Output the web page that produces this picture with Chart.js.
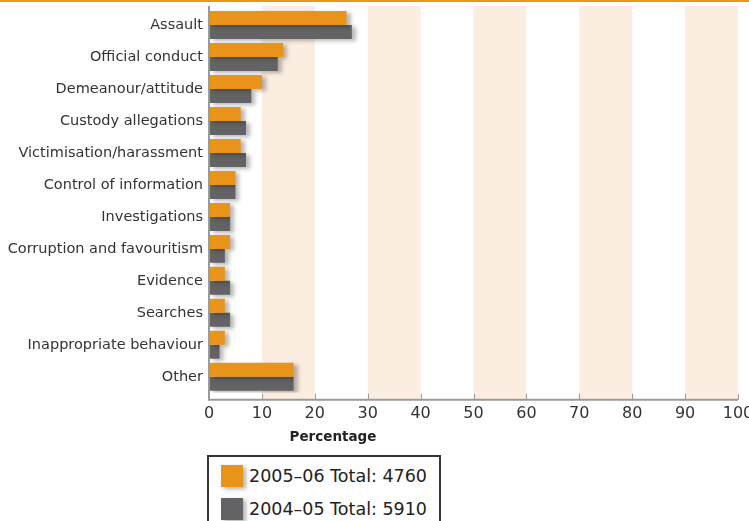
<!DOCTYPE html>
<html>
<head>
<meta charset="utf-8">
<script src="https://cdn.jsdelivr.net/npm/chart.js@4/dist/chart.umd.min.js"></script>
<style>
  html, body { margin: 0; padding: 0; background: #fff; }
  body { width: 749px; height: 521px; position: relative; overflow: hidden; font-family: "DejaVu Sans", sans-serif; }
  #topline { position: absolute; left: 0; top: 0; width: 749px; height: 2px; background: #E8961E; }
  #wrap { position: absolute; left: 0; top: 0; width: 749px; height: 445px; }
  #legend { position: absolute; left: 207px; top: 455px; width: 234px; height: 80px;
            border: 2px solid #333; box-sizing: border-box; }
  .item { position: absolute; left: 12px; display: flex; align-items: center; }
  .swatch { width: 22px; height: 22px; margin-right: 6px; box-shadow: 3px 2px 4px rgba(0,0,0,0.3); }
  .label { font-size: 17.5px; color: #222; white-space: nowrap; }
</style>
</head>
<body>
<div id="topline"></div>
<div id="wrap"><canvas id="c"></canvas></div>
<div id="legend"></div>
<script>
// Complaint categories and the share (%) of each year's total
const categories = [
  "Assault", "Official conduct", "Demeanour/attitude", "Custody allegations",
  "Victimisation/harassment", "Control of information", "Investigations",
  "Corruption and favouritism", "Evidence", "Searches",
  "Inappropriate behaviour", "Other"
];
const seriesNames = ["2005\u201306 Total: 4760", "2004\u201305 Total: 5910"];
const values2005_06 = [26, 14, 10, 6, 6, 5, 4, 4, 3, 3, 3, 16];
const values2004_05 = [27, 13, 8, 7, 7, 5, 4, 3, 4, 4, 2, 16];
const xTicks = [0, 10, 20, 30, 40, 50, 60, 70, 80, 90, 100];
const axisTitle = "Percentage";

const ORANGE = "#E8941A";
const GREY = "#636366";
const BAND = "#FBEDE0";
const AXIS = "#9a9a9a";

// Alternating shaded columns behind the bars
const bands = {
  id: "bands",
  beforeDatasetsDraw(chart) {
    const { ctx, chartArea: a, scales: { x } } = chart;
    const top = a.top - 3, bottom = a.bottom + 7;
    ctx.save();
    ctx.fillStyle = BAND;
    for (let i = 1; i < xTicks.length; i += 2) {
      const x0 = x.getPixelForValue(xTicks[i]);
      const x1 = x.getPixelForValue(xTicks[i + 1]);
      ctx.fillRect(x0, top, x1 - x0, bottom - top);
    }
    ctx.restore();
  }
};

// Soft drop shadow under the bars
const barShadow = {
  id: "barShadow",
  beforeDatasetsDraw(chart) {
    const ctx = chart.ctx;
    ctx.save();
    ctx.shadowColor = "rgba(0,0,0,0.28)";
    ctx.shadowBlur = 4;
    ctx.shadowOffsetX = 4;
    ctx.shadowOffsetY = 2;
  },
  afterDatasetsDraw(chart) { chart.ctx.restore(); }
};

// Axis lines, inward tick marks and the axis title
const axes = {
  id: "axes",
  afterDraw(chart) {
    const { ctx, chartArea: a, scales: { x } } = chart;
    const top = a.top - 3, bottom = a.bottom + 7;
    ctx.save();
    ctx.strokeStyle = AXIS;
    ctx.lineWidth = 1;
    xTicks.slice(1).forEach(v => {
      const px = Math.round(x.getPixelForValue(v)) + 0.5;
      ctx.beginPath(); ctx.moveTo(px, bottom - 6); ctx.lineTo(px, bottom); ctx.stroke();
    });
    ctx.lineWidth = 2;
    ctx.beginPath();
    ctx.moveTo(a.left, top); ctx.lineTo(a.left, bottom); ctx.lineTo(a.right, bottom);
    ctx.stroke();
    ctx.font = "bold 13.5px 'DejaVu Sans', sans-serif";
    ctx.fillStyle = "#222";
    ctx.textAlign = "center";
    ctx.textBaseline = "middle";
    ctx.fillText(axisTitle, a.left + 124, bottom + 38);
    ctx.restore();
  }
};

const chart = new Chart(document.getElementById("c"), {
  type: "bar",
  data: {
    labels: categories,
    datasets: [
      { label: seriesNames[0], data: values2005_06, backgroundColor: ORANGE },
      { label: seriesNames[1], data: values2004_05, backgroundColor: GREY }
    ]
  },
  options: {
    indexAxis: "y",
    responsive: true,
    maintainAspectRatio: false,
    animation: false,
    categoryPercentage: 0.875,
    barPercentage: 1,
    layout: { padding: { top: 9, right: 11, left: 0, bottom: 11 } },
    plugins: { legend: { display: false }, tooltip: { enabled: false } },
    scales: {
      x: {
        min: 0, max: 100,
        afterBuildTicks(scale) { scale.ticks = xTicks.map(v => ({ value: v })); },
        afterFit(scale) { scale.paddingLeft = 0; scale.paddingRight = 0; },
        grid: { display: false, drawTicks: false },
        border: { display: false },
        ticks: { padding: 11, color: "#333", font: { family: "DejaVu Sans", size: 16 } }
      },
      y: {
        afterFit(scale) { scale.width = 209; scale.paddingTop = 0; scale.paddingBottom = 0; },
        grid: { display: false, drawTicks: false },
        border: { display: false },
        ticks: { padding: 6, color: "#333", font: { family: "DejaVu Sans", size: 14.5 } }
      }
    }
  },
  plugins: [bands, barShadow, axes]
});

// Legend box below the chart
const legend = document.getElementById("legend");
chart.data.datasets.forEach((ds, i) => {
  const item = document.createElement("div");
  item.className = "item";
  item.style.top = (8 + i * 33) + "px";
  const sw = document.createElement("span");
  sw.className = "swatch";
  sw.style.background = ds.backgroundColor;
  const lb = document.createElement("span");
  lb.className = "label";
  lb.textContent = ds.label;
  item.appendChild(sw);
  item.appendChild(lb);
  legend.appendChild(item);
});
</script>
</body>
</html>
